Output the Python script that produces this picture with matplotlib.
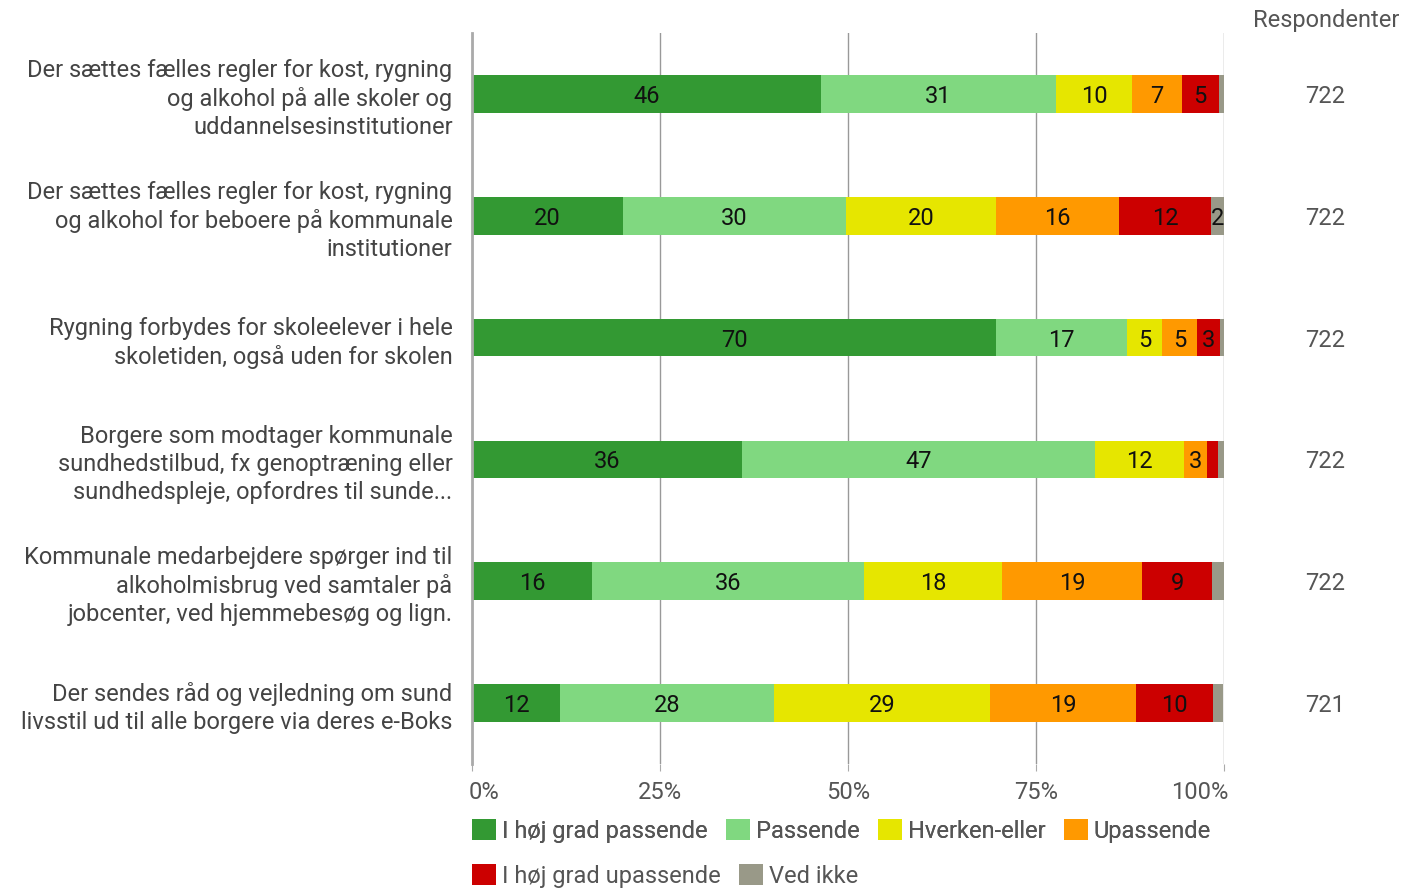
import matplotlib
matplotlib.use("Agg")
import matplotlib.pyplot as plt
import matplotlib.transforms as mtransforms
from matplotlib.patches import Patch
import numpy as np

plt.rcParams['font.family'] = ['Roboto', 'DejaVu Sans']

categories = [
    "Der sættes fælles regler for kost, rygning\nog alkohol på alle skoler og\nuddannelsesinstitutioner",
    "Der sættes fælles regler for kost, rygning\nog alkohol for beboere på kommunale\ninstitutioner",
    "Rygning forbydes for skoleelever i hele\nskoletiden, også uden for skolen",
    "Borgere som modtager kommunale\nsundhedstilbud, fx genoptræning eller\nsundhedspleje, opfordres til sunde...",
    "Kommunale medarbejdere spørger ind til\nalkoholmisbrug ved samtaler på\njobcenter, ved hjemmebesøg og lign.",
    "Der sendes råd og vejledning om sund\nlivsstil ud til alle borgere via deres e-Boks",
]
series_names = ["I høj grad passende", "Passende", "Hverken-eller",
                "Upassende", "I høj grad upassende", "Ved ikke"]
hoej_passende = [46.4, 20.1, 69.7, 35.9, 16.0, 11.7]
passende = [31.3, 29.6, 17.4, 46.9, 36.1, 28.4]
hverken = [10.1, 20.0, 4.7, 11.9, 18.4, 28.8]
upassende = [6.6, 16.3, 4.6, 3.0, 18.6, 19.4]
hoej_upassende = [4.9, 12.3, 3.1, 1.5, 9.3, 10.3]
ved_ikke = [0.7, 1.75, 0.5, 0.8, 1.55, 1.3]
respondenter = [722, 722, 722, 722, 722, 721]
xticks = [0, 25, 50, 75, 100]
xticklabels = ["0%", "25%", "50%", "75%", "100%"]

colors = ["#339933", "#80d880", "#e6e600", "#ff9900", "#cc0000", "#999988"]
series = [hoej_passende, passende, hverken, upassende, hoej_upassende, ved_ikke]

FS = 17
fig = plt.figure(figsize=(14.04, 8.88), dpi=100)
ax = fig.add_axes([472/1404, (888-764)/888, (1224-472)/1404, (764-33)/888])

y = np.arange(len(categories))
left = np.zeros(len(categories))
for vals, col in zip(series, colors):
    vals = np.array(vals)
    ax.barh(y, vals, left=left, height=0.31, color=col, zorder=3)
    for yi, l, v in zip(y, left, vals):
        if v >= 1.7:
            ax.text(l + v / 2, yi, f"{round(v):d}", ha="center", va="center_baseline",
                    fontsize=FS, color="#111111", zorder=4)
    left += vals

ax.set_xlim(0, 100)
ax.set_ylim(5.5, -0.5)
ax.set_yticks(y)
ax.set_yticklabels(categories, fontsize=FS, color="#444444", linespacing=1.27)
ax.tick_params(axis="y", length=0, pad=14)
ax.set_xticks(xticks)
ax.set_xticklabels(xticklabels, fontsize=FS, color="#555555")
ax.tick_params(axis="x", length=5, color="#aaaaaa", pad=7)
tl = ax.get_xticklabels()
tl[0].set_ha("left")
tl[-1].set_ha("right")
tl[0].set_transform(tl[0].get_transform() + mtransforms.ScaledTranslation(-3/100, 0, fig.dpi_scale_trans))
tl[-1].set_transform(tl[-1].get_transform() + mtransforms.ScaledTranslation(4/100, 0, fig.dpi_scale_trans))
for s in ["top", "right", "bottom"]:
    ax.spines[s].set_visible(False)
ax.spines["left"].set_color("#aaaaaa")
ax.spines["left"].set_linewidth(2)
ax.spines["left"].set_zorder(5)
ax.grid(axis="x", color="#999999", linewidth=1, zorder=0)

for yi, r in zip(y, respondenter):
    ax.text(1.135, yi, str(r), transform=ax.get_yaxis_transform(),
            ha="center", va="center_baseline", fontsize=FS, color="#555555")
fig.text(1326/1404, 1 - 20/888, "Respondenter", ha="center", va="center",
         fontsize=FS, color="#555555")

handles = [Patch(facecolor=c, edgecolor="none") for c in colors]
leg_kw = dict(frameon=False, fontsize=FS, handlelength=1.0, handleheight=1.0,
              handletextpad=0.25, columnspacing=0.8, labelcolor="#555555",
              borderaxespad=0, borderpad=0)
leg1 = fig.legend(handles[:4], series_names[:4], loc="center left",
                  bbox_to_anchor=(472/1404, 1 - 831/888), ncol=4, **leg_kw)
fig.add_artist(leg1)
leg2 = fig.legend(handles[4:], series_names[4:], loc="center left",
                  bbox_to_anchor=(472/1404, 1 - 876/888), ncol=2, **leg_kw)

fig.savefig("out.png", dpi=100)
